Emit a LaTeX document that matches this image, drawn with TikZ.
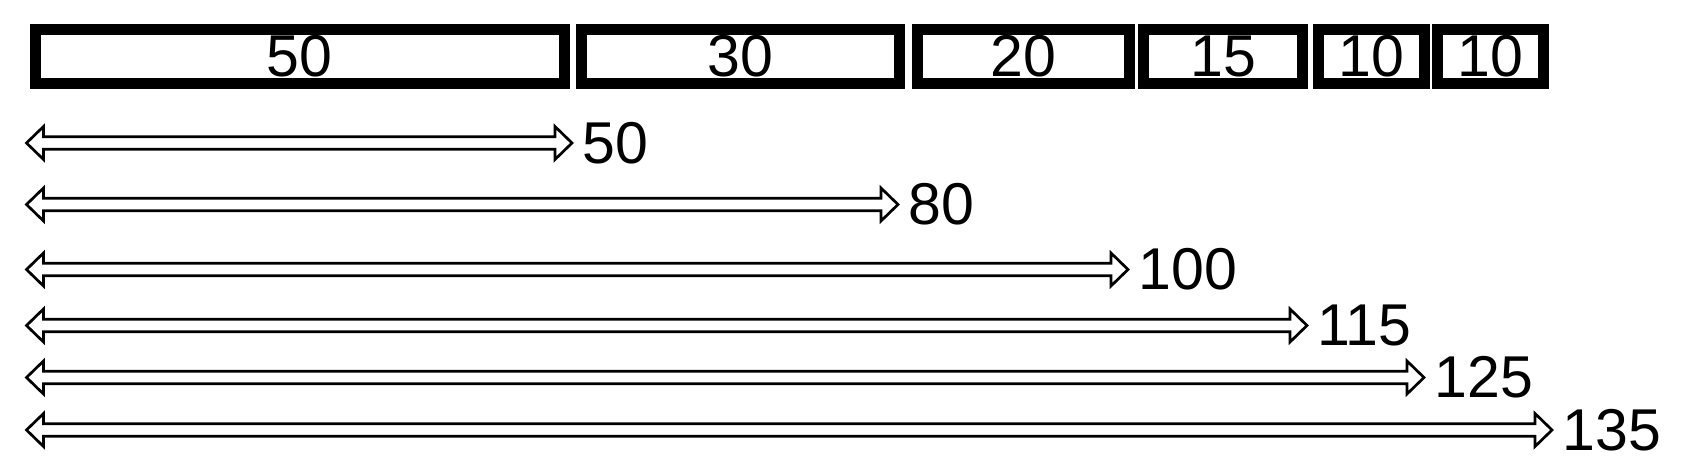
\documentclass[tikz,border=0pt]{standalone}
\usepackage{fontspec}
\setmainfont{Liberation Sans}
\usetikzlibrary{positioning,calc}

% hollow block arrow between two named points
\newcommand{\spanarrow}[2]{%
  \draw[span] (#1) -- ($(#1)+(17,-16.5)$) -- ($(#1)+(17,-6.3)$)
    -- ($(#2)+(-17,-6.3)$) -- ($(#2)+(-17,-16.5)$) -- (#2)
    -- ($(#2)+(-17,16.5)$) -- ($(#2)+(-17,6.3)$)
    -- ($(#1)+(17,6.3)$) -- ($(#1)+(17,16.5)$) -- cycle;}

\begin{document}
\begin{tikzpicture}[
  x=0.5pt,y=-0.5pt,
  seg/.style={draw=black,line width=5.5pt,fill=white,minimum height=26.7pt,
    inner sep=0pt,font=\fontsize{29.5}{30}\selectfont},
  span/.style={draw=black,line width=1.35pt,fill=white},
  total/.style={inner sep=0pt,anchor=west,font=\fontsize{29.5}{30}\selectfont}
]
  \useasboundingbox[fill=white] (0,0) rectangle (1685,476);
  % segments
  \node[seg,minimum width=264.75pt,anchor=west] (s50) at (29.5,56.5) {50};
  \node[seg,minimum width=159pt,right=3pt of s50] (s30) {30};
  \node[seg,minimum width=106pt,right=3.5pt of s30] (s20) {20};
  \node[seg,minimum width=79.5pt,right=1.5pt of s20] (s15) {15};
  \node[seg,minimum width=53pt,right=2.5pt of s15] (s10a) {10};
  \node[seg,minimum width=53pt,right=1pt of s10a] (s10b) {10};
  % running totals
  \coordinate (l1) at (26.5,143);   \coordinate (r1) at (572,143);
  \coordinate (l2) at (26.5,204.5); \coordinate (r2) at (898,204.5);
  \coordinate (l3) at (26.5,269.5); \coordinate (r3) at (1128,269.5);
  \coordinate (l4) at (26.5,325.5); \coordinate (r4) at (1307,325.5);
  \coordinate (l5) at (26.5,377.5); \coordinate (r5) at (1424,377.5);
  \coordinate (l6) at (26.5,430);   \coordinate (r6) at (1552,430);
  \spanarrow{l1}{r1}
  \spanarrow{l2}{r2}
  \spanarrow{l3}{r3}
  \spanarrow{l4}{r4}
  \spanarrow{l5}{r5}
  \spanarrow{l6}{r6}
  \node[total,right=5pt of r1] (t50) {50};
  \node[total,right=5pt of r2] (t80) {80};
  \node[total,right=5pt of r3] (t100) {100};
  \node[total,right=5pt of r4] (t115) {115};
  \node[total,right=5pt of r5] (t125) {125};
  \node[total,right=5pt of r6] (t135) {135};
\end{tikzpicture}
\end{document}
